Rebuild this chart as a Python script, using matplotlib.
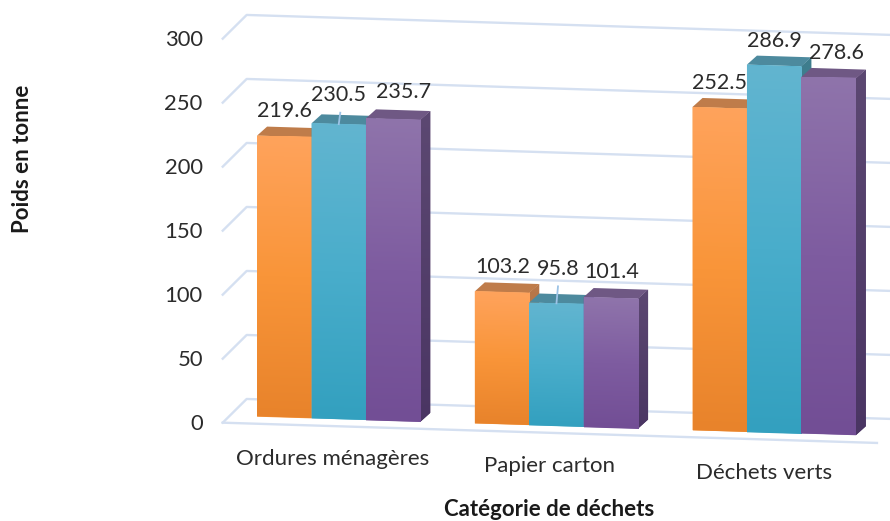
import numpy as np
import matplotlib
matplotlib.use("Agg")
import matplotlib.pyplot as plt
from matplotlib.colors import LinearSegmentedColormap
from matplotlib.patches import Polygon
from matplotlib.transforms import Affine2D

categories = ["Ordures ménagères", "Papier carton", "Déchets verts"]
series_1 = [219.6, 103.2, 252.5]
series_2 = [230.5, 95.8, 286.9]
series_3 = [235.7, 101.4, 278.6]
y_ticks = [0, 50, 100, 150, 200, 250, 300]

plt.rcParams['font.family'] = ['Lato', 'DejaVu Sans']

# colours per series: front gradient, side gradient, top
front_colors = [["#FFA35C", "#F99539", "#E8832B"],
                ["#62B5D0", "#49ADCB", "#33A0BF"],
                ["#8F74AB", "#7E5CA0", "#724E95"]]
side_colors = [["#B9784A", "#A8683A"],
               ["#3F7E8E", "#2F7488"],
               ["#5C4872", "#4A3563"]]
top_colors = ["#BF7C4A", "#4D8A9E", "#6F5884"]
grid_color = "#D5E0F1"
text_color = "#2B2B2B"

# fake 3D geometry, in category / value units
bar_width = 0.25
depth_x = 0.0459
depth_y = 7.27
slope = -5.27  # everything runs slightly downhill to the right
floor_front = (-0.533, -5.5)
floor_back = (-0.423, 13.6)
floor_right_front = 2.472

# label centre relative to the middle of the bar's front top edge, pixels
label_offsets = [[(0.6, 25), (1, 25), (0, 25)],
                 [(0, 29), (1.5, 34), (0, 24.5)],
                 [(10.3, 27), (1, 26), (7.5, 25)]]
category_shift = [-0.03, -0.03, -0.047]

fig = plt.figure(figsize=(8.9, 5.21), dpi=100)
ax = fig.add_axes([0, 0, 1, 1])
ax.axis('off')
shear = Affine2D.from_values(1, slope, 0, 1, 0, 0) + ax.transData


def fill_gradient(patch, x0, x1, y0, y1, colors, zorder):
    cmap = LinearSegmentedColormap.from_list("g", colors)
    grad = np.linspace(0, 1, 256).reshape(-1, 1)
    im = ax.imshow(grad, cmap=cmap, aspect='auto', origin='upper',
                   extent=[x0, x1, y0, y1], zorder=zorder)
    im.set_transform(shear)
    im.set_clip_path(patch)


# walls and floor
for t in y_ticks:
    ax.plot([floor_front[0], floor_back[0], 2.6],
            [t + floor_front[1], t + floor_back[1], t + floor_back[1]],
            color=grid_color, lw=1.7, transform=shear, zorder=1)
    ax.annotate(str(t), xy=(floor_front[0], t + floor_front[1]), xycoords=shear,
                xytext=(-20, -1), textcoords='offset pixels',
                ha='right', va='center', fontsize=15.8, color=text_color)
ax.plot([floor_front[0], floor_right_front], [floor_front[1], floor_front[1]],
        color=grid_color, lw=1.7, transform=shear, zorder=1)

all_series = [series_1, series_2, series_3]
z = 2
for i in range(len(categories)):
    for j, values in enumerate(all_series):
        v = values[i]
        x0 = i + (j - 1.5) * bar_width
        x1 = x0 + bar_width

        side = Polygon([(x1, 0), (x1 + depth_x, depth_y),
                        (x1 + depth_x, v + depth_y), (x1, v)],
                       closed=True, facecolor=side_colors[j][1], edgecolor='none',
                       transform=shear, zorder=z)
        ax.add_patch(side)
        fill_gradient(side, x1, x1 + depth_x, 0, v + depth_y, side_colors[j], z + 0.1)

        top = Polygon([(x0, v), (x0 + depth_x, v + depth_y),
                       (x1 + depth_x, v + depth_y), (x1, v)],
                      closed=True, facecolor=top_colors[j], edgecolor='none',
                      transform=shear, zorder=z + 0.2)
        ax.add_patch(top)

        bar = ax.bar(x0, v, bar_width, align='edge', color=front_colors[j][1],
                     transform=shear, zorder=z + 0.3)[0]
        fill_gradient(bar, x0, x1, 0, v, front_colors[j], z + 0.4)
        z += 1

        dx, dy = label_offsets[j][i]
        ax.annotate(f"{v:.1f}", xy=(x0 + bar_width / 2, v), xycoords=shear,
                    xytext=(dx, dy), textcoords='offset pixels',
                    ha='center', va='center', fontsize=15.5, color=text_color, zorder=50)

# leader lines of the two labels sitting close to their bars
for i, rise in [(0, 9), (1, 13.3)]:
    v = series_2[i]
    ax.plot([i, i + 0.007], [v, v + rise], color="#9CC3E6", lw=1.3,
            transform=shear, zorder=40)

# category labels
for i, name in enumerate(categories):
    ax.text(i + category_shift[i], -31.5, name, transform=shear, ha='center', va='center',
            fontsize=16, color=text_color)

fig.text(23 / 890, 1 - 159 / 521, "Poids en tonne", rotation=90, ha='center', va='center',
         fontsize=16, fontweight='bold', color="#1A1A1A")
fig.text(549 / 890, 1 - 510 / 521, "Catégorie de déchets", ha='center', va='center',
         fontsize=16, fontweight='bold', color="#1A1A1A")

ax.set_xlim(-1.556, 2.532)
ax.set_ylim(-79.5, 327.5)
fig.savefig("out.png", dpi=100)
